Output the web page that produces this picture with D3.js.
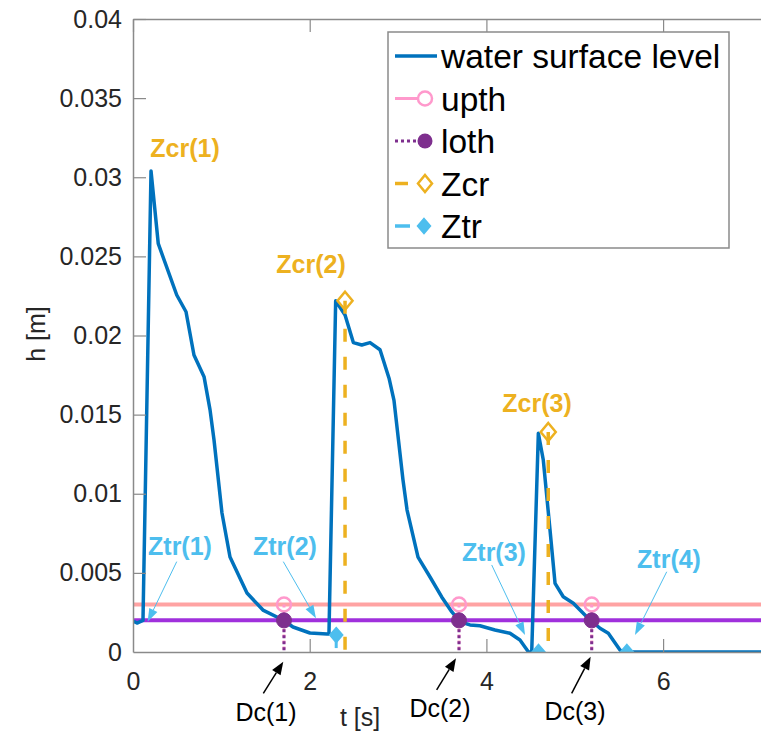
<!DOCTYPE html>
<html>
<head>
<meta charset="utf-8">
<script src="https://cdn.jsdelivr.net/npm/d3@7"></script>
<style>
  html, body { margin: 0; padding: 0; background: #fff; }
  svg { display: block; }
  text { font-family: "Liberation Sans", Arial, Helvetica, sans-serif; }
</style>
</head>
<body>
<svg id="chart" width="761" height="732"></svg>
<script>
// Water surface level h(t)
const timeS = [0, 0.045, 0.113, 0.204, 0.286, 0.495, 0.600, 0.690, 0.804, 0.872, 0.917, 1.007, 1.098,
  1.29, 1.471, 1.698, 1.811, 2.003, 2.196, 2.218, 2.294, 2.40, 2.494, 2.589, 2.683, 2.796, 2.898,
  2.954, 3.056, 3.102, 3.226, 3.362, 3.494, 3.607, 3.701, 3.814, 3.927, 4.097, 4.267, 4.38, 4.474,
  4.513, 4.588, 4.644, 4.72, 4.777, 4.870, 4.984, 5.135, 5.286, 5.38, 5.512, 5.55, 8.0];
const levelM = [0.00196, 0.00183, 0.0020, 0.0304, 0.0258, 0.02256, 0.0215, 0.01877, 0.0174, 0.0153,
  0.0134, 0.00878, 0.0060, 0.00373, 0.00265, 0.00202, 0.00158, 0.0012, 0.00114, 0.00114, 0.0222,
  0.0213, 0.01955, 0.0194, 0.01955, 0.0191, 0.0173, 0.0159, 0.01087, 0.00897, 0.0060, 0.00474,
  0.00348, 0.00255, 0.00191, 0.00171, 0.00166, 0.00139, 0.00118, 0.00076, 0.00002, 0, 0.01382,
  0.01213, 0.00771, 0.00434, 0.00349, 0.00308, 0.00223, 0.0015, 0.00118, 0.00013, 0, 0];

// Thresholds
const upth = 0.003;
const loth = 0.002;

// Detected events
const dcTimes = [1.709, 3.690, 5.192];
const zcrTimes = [2.40, 4.70];
const zcrLevels = [0.0222, 0.0139];
const ztrTimes = [2.30, 4.59, 5.59];
const ztrLevels = [0.00107, 0, 0];

// Ticks
const xTicks = [0, 2, 4, 6];
const yTicks = [0, 0.005, 0.01, 0.015, 0.02, 0.025, 0.03, 0.035, 0.04];
const yTickLabels = ["0", "0.005", "0.01", "0.015", "0.02", "0.025", "0.03", "0.035", "0.04"];

// Annotation texts placed in data units (centre x, baseline y)
const zcrLabels = ["Zcr(1)", "Zcr(2)", "Zcr(3)"];
const zcrLabelPos = [[0.589, 0.03128], [2.015, 0.02395], [4.573, 0.01518]];
const ztrLabels = ["Ztr(1)", "Ztr(2)", "Ztr(3)", "Ztr(4)"];
const ztrLabelPos = [[0.532, 0.00613], [1.72, 0.00613], [4.086, 0.00575], [6.067, 0.00531]];
const ztrArrows = [
  [[0.495, 0.00571], [0.166, 0.00191]],
  [[1.701, 0.00571], [2.071, 0.00213]],
  [[4.06, 0.0055], [4.437, 0.00107]],
  [[6.041, 0.00507], [5.682, 0.00107]]
];
const dcLabels = ["Dc(1)", "Dc(2)", "Dc(3)"];
const dcLabelPos = [[1.505, -0.00434], [3.475, -0.00409], [5.003, -0.0043]];
const dcArrows = [
  [[1.475, -0.00261], [1.701, -0.00061]],
  [[3.437, -0.0024], [3.656, -0.0004]],
  [[4.965, -0.00261], [5.18, -0.0003]]
];

const legendItems = ["water surface level", "upth", "loth", "Zcr", "Ztr"];

const C = {
  water: "#0072BD",
  upthLine: "#FFA3A3",
  lothLine: "#A030DC",
  upthMark: "#FF99CC",
  lothMark: "#7E2F8E",
  zcr: "#EDB120",
  ztr: "#4DBEEE",
  axis: "#8a8a8a",
  text: "#262626"
};

const svg = d3.select("#chart");
const x = d3.scaleLinear().domain([0, 8]).range([133, 133 + 8 * 88.35]);
const y = d3.scaleLinear().domain([0, 0.04]).range([652, 19]);
const plotRight = x(8);

// clip for plot contents
svg.append("defs").append("clipPath").attr("id", "plotclip")
  .append("rect").attr("x", x(0)).attr("y", y(0.04)).attr("width", plotRight - x(0)).attr("height", y(0) - y(0.04));

const plot = svg.append("g").attr("clip-path", "url(#plotclip)");

// threshold lines
plot.append("line").attr("x1", x(0)).attr("x2", plotRight).attr("y1", y(upth)).attr("y2", y(upth))
  .attr("stroke", C.upthLine).attr("stroke-width", 4);
plot.append("line").attr("x1", x(0)).attr("x2", plotRight).attr("y1", y(loth)).attr("y2", y(loth))
  .attr("stroke", C.lothLine).attr("stroke-width", 4);

// water surface level
const line = d3.line().x((d, i) => x(timeS[i])).y((d, i) => y(levelM[i]));
plot.append("path").attr("d", line(levelM)).attr("fill", "none")
  .attr("stroke", C.water).attr("stroke-width", 3.5).attr("stroke-linejoin", "round");

// Zcr stems + open diamonds
function diamond(g, cx, cy, w, hgt, fill, stroke, sw) {
  g.append("path")
    .attr("d", `M${cx},${cy - hgt / 2}L${cx + w / 2},${cy}L${cx},${cy + hgt / 2}L${cx - w / 2},${cy}Z`)
    .attr("fill", fill).attr("stroke", stroke).attr("stroke-width", sw);
}
zcrTimes.forEach((tz, i) => {
  plot.append("line").attr("x1", x(tz)).attr("x2", x(tz)).attr("y1", y(zcrLevels[i])).attr("y2", y(0))
    .attr("stroke", C.zcr).attr("stroke-width", 3.5).attr("stroke-dasharray", "13,15");
});
zcrTimes.forEach((tz, i) => diamond(plot, x(tz), y(zcrLevels[i]), 15, 18, "none", C.zcr, 2.5));

// Ztr stems + filled markers
ztrTimes.forEach((tt, i) => {
  plot.append("line").attr("x1", x(tt)).attr("x2", x(tt)).attr("y1", y(ztrLevels[i])).attr("y2", y(0))
    .attr("stroke", C.ztr).attr("stroke-width", 3).attr("stroke-dasharray", "13,15");
  diamond(plot, x(tt), y(ztrLevels[i]), 13, 15, C.ztr, C.ztr, 1.5);
});

// Dc stems + threshold markers
dcTimes.forEach(td => {
  plot.append("line").attr("x1", x(td)).attr("x2", x(td)).attr("y1", y(upth)).attr("y2", y(0))
    .attr("stroke", C.upthMark).attr("stroke-width", 3).attr("stroke-dasharray", "3,3");
  plot.append("line").attr("x1", x(td)).attr("x2", x(td)).attr("y1", y(loth)).attr("y2", y(0))
    .attr("stroke", C.lothMark).attr("stroke-width", 3).attr("stroke-dasharray", "3,3").attr("stroke-dashoffset", 3);
  plot.append("circle").attr("cx", x(td)).attr("cy", y(upth)).attr("r", 7)
    .attr("fill", "none").attr("stroke", C.upthMark).attr("stroke-width", 2.5);
  plot.append("circle").attr("cx", x(td)).attr("cy", y(loth)).attr("r", 7.5)
    .attr("fill", C.lothMark).attr("stroke", C.lothMark).attr("stroke-width", 1);
});

// Axes (box: left, bottom, top)
const axisG = svg.append("g");
const yAxis = d3.axisLeft(y).tickValues(yTicks).tickFormat((d, i) => yTickLabels[i])
  .tickSizeInner(-13).tickSizeOuter(0).tickPadding(11);
const yg = axisG.append("g").attr("transform", `translate(${x(0)},0)`).call(yAxis);
const xAxis = d3.axisBottom(x).tickValues(xTicks).tickFormat(d3.format("d"))
  .tickSizeInner(-13).tickSizeOuter(0).tickPadding(20);
const xg = axisG.append("g").attr("transform", `translate(0,${y(0)})`).call(xAxis);
const xTop = d3.axisTop(x).tickValues(xTicks).tickFormat("").tickSizeInner(-13).tickSizeOuter(0);
const tg = axisG.append("g").attr("transform", `translate(0,${y(0.04)})`).call(xTop);
[yg, xg, tg].forEach(g => {
  g.select(".domain").attr("stroke", C.axis).attr("stroke-width", 1.5);
  g.selectAll(".tick line").attr("stroke", C.axis).attr("stroke-width", 1.2);
  g.selectAll(".tick text").attr("fill", C.text).style("font-size", "25px")
    .style("font-family", "'Liberation Sans', Arial, sans-serif");
});
xg.select(".tick:first-of-type line").remove();
yg.select(".tick:first-of-type line").remove();

// axis labels
svg.append("text").attr("x", x(2.57)).attr("y", 726).attr("text-anchor", "middle")
  .attr("fill", C.text).style("font-size", "25px").text("t [s]");
svg.append("text").attr("transform", "translate(45,334) rotate(-90)").attr("text-anchor", "middle")
  .attr("fill", C.text).style("font-size", "25px").text("h [m]");

// arrows
function arrow(p0, p1, color, width, headLen, headW) {
  const x0 = x(p0[0]), y0 = y(p0[1]), x1 = x(p1[0]), y1 = y(p1[1]);
  const dx = x1 - x0, dy = y1 - y0, L = Math.hypot(dx, dy);
  const ux = dx / L, uy = dy / L;
  const bx = x1 - ux * headLen, by = y1 - uy * headLen;
  svg.append("line").attr("x1", x0).attr("y1", y0).attr("x2", bx).attr("y2", by)
    .attr("stroke", color).attr("stroke-width", width);
  svg.append("path")
    .attr("d", `M${x1},${y1}L${bx - uy * headW / 2},${by + ux * headW / 2}L${bx + uy * headW / 2},${by - ux * headW / 2}Z`)
    .attr("fill", color);
}
ztrArrows.forEach(a => arrow(a[0], a[1], C.ztr, 1, 13, 9));
dcArrows.forEach(a => arrow(a[0], a[1], "#000", 1.5, 13, 10));

// annotation labels
function labels(texts, pos, color, weight) {
  texts.forEach((s, i) => {
    svg.append("text").attr("x", x(pos[i][0])).attr("y", y(pos[i][1])).attr("text-anchor", "middle")
      .attr("fill", color).style("font-size", "25px").style("font-weight", weight).text(s);
  });
}
labels(zcrLabels, zcrLabelPos, C.zcr, "bold");
labels(ztrLabels, ztrLabelPos, C.ztr, "bold");
labels(dcLabels, dcLabelPos, "#000", "normal");

// legend
const lg = svg.append("g");
lg.append("rect").attr("x", 388).attr("y", 32).attr("width", 341).attr("height", 216)
  .attr("fill", "#fff").attr("stroke", C.axis).attr("stroke-width", 1.5);
const rowY = d3.range(legendItems.length).map(i => 56 + i * 42.5);
legendItems.forEach((s, i) => {
  lg.append("text").attr("x", 441).attr("y", rowY[i] + 12).attr("fill", "#000")
    .style("font-size", "33.5px").text(s);
});
lg.append("line").attr("x1", 395).attr("x2", 437).attr("y1", rowY[0]).attr("y2", rowY[0])
  .attr("stroke", C.water).attr("stroke-width", 3.5);
lg.append("line").attr("x1", 395).attr("x2", 418).attr("y1", rowY[1]).attr("y2", rowY[1])
  .attr("stroke", C.upthMark).attr("stroke-width", 3);
lg.append("circle").attr("cx", 425).attr("cy", rowY[1]).attr("r", 7)
  .attr("fill", "none").attr("stroke", C.upthMark).attr("stroke-width", 2.5);
lg.append("line").attr("x1", 395).attr("x2", 418).attr("y1", rowY[2]).attr("y2", rowY[2])
  .attr("stroke", C.lothMark).attr("stroke-width", 3).attr("stroke-dasharray", "3,3");
lg.append("circle").attr("cx", 425).attr("cy", rowY[2]).attr("r", 7.5).attr("fill", C.lothMark);
lg.append("line").attr("x1", 395).attr("x2", 408).attr("y1", rowY[3]).attr("y2", rowY[3])
  .attr("stroke", C.zcr).attr("stroke-width", 3.5);
diamond(lg, 425, rowY[3], 14, 17, "none", C.zcr, 2.5);
lg.append("line").attr("x1", 395).attr("x2", 410).attr("y1", rowY[4]).attr("y2", rowY[4])
  .attr("stroke", C.ztr).attr("stroke-width", 3.5);
diamond(lg, 424, rowY[4], 13, 15, C.ztr, C.ztr, 1.5);
</script>
</body>
</html>
